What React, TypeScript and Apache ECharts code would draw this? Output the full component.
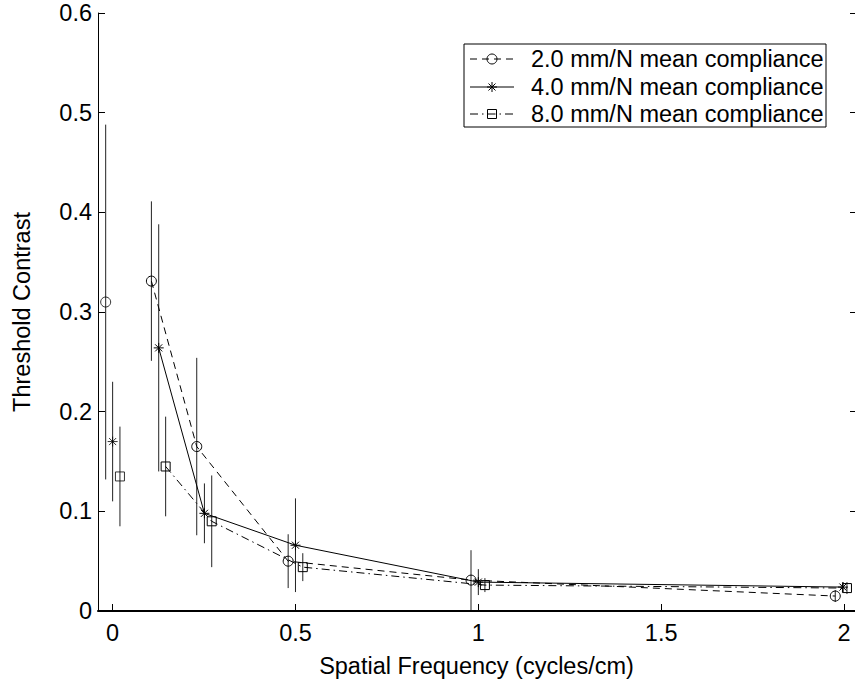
import React, { useEffect, useRef } from "react";
import * as echarts from "echarts";

// ---- data ----
const seriesNames = [
  "2.0 mm/N mean compliance",
  "4.0 mm/N mean compliance",
  "8.0 mm/N mean compliance",
];

const s1X = [-0.019, 0.106, 0.23, 0.48, 0.98, 1.976];
const s1Y = [0.31, 0.331, 0.165, 0.05, 0.031, 0.015];
const s1E = [0.178, 0.08, 0.089, 0.027, 0.03, 0.006];

const s2X = [0.0, 0.126, 0.251, 0.5, 1.0, 1.997];
const s2Y = [0.17, 0.264, 0.098, 0.066, 0.029, 0.024];
const s2E = [0.06, 0.124, 0.03, 0.047, 0.013, 0.005];

const s3X = [0.02, 0.145, 0.271, 0.52, 1.018, 2.008];
const s3Y = [0.135, 0.145, 0.09, 0.044, 0.026, 0.023];
const s3E = [0.05, 0.05, 0.046, 0.014, 0.007, 0.006];

const xTicks = [0, 0.5, 1, 1.5, 2];
const yTicks = [0, 0.1, 0.2, 0.3, 0.4, 0.5, 0.6];

const xTitle = "Spatial Frequency (cycles/cm)";
const yTitle = "Threshold Contrast";

const FONT = "'Liberation Sans', Arial, Helvetica, sans-serif";
const FS = 23.5;
const STAR =
  "path://M5,0L5,10M0,5L10,5M1.46,1.46L8.54,8.54M1.46,8.54L8.54,1.46";

export default function App() {
  const ref = useRef<HTMLDivElement>(null);

  useEffect(() => {
    if (!ref.current) return;
    const chart = echarts.init(ref.current, undefined, { renderer: "svg" });

    const groups = [
      { xs: s1X, ys: s1Y, es: s1E, symbol: "circle", size: 10, dash: [7, 5] as any },
      { xs: s2X, ys: s2Y, es: s2E, symbol: STAR, size: 10, dash: "solid" as any },
      { xs: s3X, ys: s3Y, es: s3E, symbol: "rect", size: 9, dash: [8, 4, 1.5, 4] as any },
    ];

    const series: any[] = [];
    groups.forEach((g, gi) => {
      const markerStyle = {
        color: "rgba(0,0,0,0)",
        borderColor: "#000",
        borderWidth: 1,
      };
      // error bars
      series.push({
        type: "custom",
        name: seriesNames[gi] + " err",
        silent: true,
        z: 1,
        data: g.xs.map((x, i) => [x, g.ys[i] - g.es[i], g.ys[i] + g.es[i]]),
        encode: { x: 0, y: [1, 2] },
        renderItem: (params: any, api: any) => {
          const lo = api.coord([api.value(0), api.value(1)]);
          const hi = api.coord([api.value(0), api.value(2)]);
          return {
            type: "line",
            shape: { x1: lo[0], y1: lo[1], x2: hi[0], y2: hi[1] },
            style: { stroke: "#222", lineWidth: 1 },
          };
        },
      });
      // isolated first point
      series.push({
        type: "scatter",
        name: seriesNames[gi] + " first",
        z: 3,
        symbol: g.symbol,
        symbolSize: g.size,
        itemStyle: markerStyle,
        data: [[g.xs[0], g.ys[0]]],
      });
      // connected points
      series.push({
        type: "line",
        name: seriesNames[gi],
        z: 3,
        symbol: g.symbol,
        symbolSize: g.size,
        showSymbol: true,
        itemStyle: markerStyle,
        lineStyle: { color: "#000", width: 1, type: g.dash },
        data: g.xs.slice(1).map((x, i) => [x, g.ys[i + 1]]),
      });
    });

    // legend drawn as graphics
    const lgLeft = 464;
    const lgTop = 44;
    const lgW = 362;
    const lgH = 83;
    const rowY = [59, 87, 114];
    const sampleX1 = 470;
    const sampleX2 = 514;
    const markX = 492;
    const legendEls: any[] = [
      {
        type: "rect",
        shape: { x: lgLeft, y: lgTop, width: lgW, height: lgH },
        style: { fill: "#fff", stroke: "#000", lineWidth: 1 },
        z: 10,
      },
    ];
    groups.forEach((g, gi) => {
      const cy = rowY[gi];
      legendEls.push({
        type: "line",
        shape: { x1: sampleX1, y1: cy, x2: sampleX2, y2: cy },
        style: { stroke: "#000", lineWidth: 1, lineDash: g.dash === "solid" ? null : g.dash },
        z: 11,
      });
      if (gi === 0) {
        legendEls.push({
          type: "circle",
          shape: { cx: markX, cy, r: 5 },
          style: { fill: "none", stroke: "#000", lineWidth: 1 },
          z: 12,
        });
      } else if (gi === 1) {
        const r = 5;
        const d = 3.5;
        [
          [markX, cy - r, markX, cy + r],
          [markX - r, cy, markX + r, cy],
          [markX - d, cy - d, markX + d, cy + d],
          [markX - d, cy + d, markX + d, cy - d],
        ].forEach((s) =>
          legendEls.push({
            type: "line",
            shape: { x1: s[0], y1: s[1], x2: s[2], y2: s[3] },
            style: { stroke: "#000", lineWidth: 1 },
            z: 12,
          })
        );
      } else {
        legendEls.push({
          type: "rect",
          shape: { x: markX - 4.5, y: cy - 4.5, width: 9, height: 9 },
          style: { fill: "none", stroke: "#000", lineWidth: 1 },
          z: 12,
        });
      }
      legendEls.push({
        type: "text",
        style: {
          text: seriesNames[gi],
          x: 531,
          y: cy,
          fontSize: FS,
          fontFamily: FONT,
          fill: "#000",
          verticalAlign: "middle",
          align: "left",
        },
        z: 12,
      });
    });

    const axisLabel = { fontSize: FS, fontFamily: FONT, color: "#000" };

    chart.setOption({
      animation: false,
      backgroundColor: "#fff",
      grid: { left: 98, top: 13, right: -3.7, bottom: 70, containLabel: false },
      xAxis: [
        {
          type: "value",
          min: -0.04,
          max: 2.03,
          axisLine: { show: true, onZero: false, lineStyle: { color: "#000", width: 2 } },
          axisTick: {
            show: true,
            inside: true,
            length: 7,
            customValues: xTicks,
            lineStyle: { color: "#000", width: 1 },
          },
          axisLabel: { ...axisLabel, margin: 10, customValues: xTicks },
          splitLine: { show: false },
          name: xTitle,
          nameLocation: "middle",
          nameGap: 43,
          nameTextStyle: { fontSize: FS, fontFamily: FONT, color: "#000" },
        },
      ],
      yAxis: [
        {
          type: "value",
          min: 0,
          max: 0.6,
          interval: 0.1,
          position: "left",
          axisLine: { show: true, onZero: false, lineStyle: { color: "#000", width: 1 } },
          axisTick: {
            show: true,
            inside: true,
            length: 7,
            customValues: yTicks,
            lineStyle: { color: "#000", width: 1 },
          },
          axisLabel: { ...axisLabel, margin: 6, customValues: yTicks },
          splitLine: { show: false },
          name: yTitle,
          nameLocation: "middle",
          nameRotate: 90,
          nameGap: 64,
          nameTextStyle: { fontSize: FS, fontFamily: FONT, color: "#000" },
        },
        {
          type: "value",
          min: 0,
          max: 0.6,
          interval: 0.1,
          position: "right",
          axisLine: { show: false, onZero: false },
          axisTick: {
            show: true,
            inside: true,
            length: 5,
            lineStyle: { color: "#000", width: 1 },
          },
          axisLabel: { show: false },
          splitLine: { show: false },
        },
      ],
      graphic: legendEls,
      series,
    });

    return () => chart.dispose();
  }, []);

  return (
    <div
      ref={ref}
      style={{ position: "fixed", left: 0, top: 0, width: 855, height: 683 }}
    />
  );
}
